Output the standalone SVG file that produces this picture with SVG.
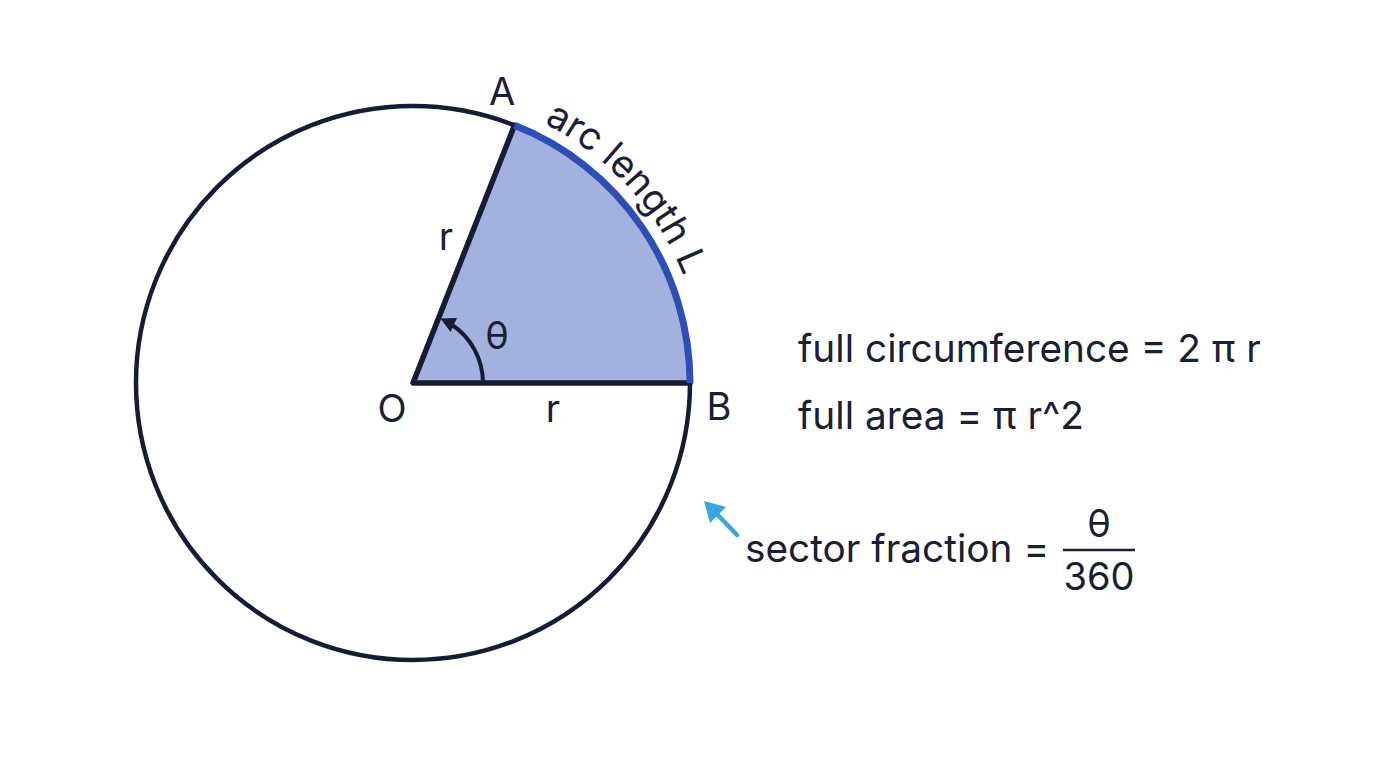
<svg xmlns="http://www.w3.org/2000/svg" width="1376" height="768" viewBox="0 0 1376 768">
<defs>
<style>
text{font-family:Inter,"Liberation Sans",sans-serif;font-size:38px;fill:#1a2033}
.f{font-size:38.8px}
.mid{text-anchor:middle}
.dark{stroke:#141d33;fill:none;stroke-linecap:round;stroke-linejoin:round}
</style>
<path id="arcPath" d="M531.4,117.2 A291,291 0 0 1 694.1,307.7" fill="none"/>
</defs>
<rect width="1376" height="768" fill="#ffffff"/>
<g id="circle">
<circle cx="413" cy="383" r="277" class="dark" stroke-width="4.5"/>
</g>
<g id="sector">
<path d="M413,383 L690,383 A277,277 0 0 0 514.5,125.3 Z" fill="#a3b1df"/>
<path d="M514.5,125.3 L413,383 L690,383" class="dark" stroke-width="5.5"/>
<path d="M690,383 A277,277 0 0 0 514.5,125.3" fill="none" stroke="#2e4eb6" stroke-width="7"/>
</g>
<g id="connectors">
<path d="M483,383 A70,70 0 0 0 451.1,324.3" class="dark" stroke-width="4"/>
<polygon points="440.4,318.6 457,318 450.6,332" fill="#141d33"/>
<line x1="737" y1="535" x2="715" y2="512" stroke="#37a6e3" stroke-width="4.5" stroke-linecap="round"/>
<polygon points="704,501 726,507 710,523" fill="#37a6e3"/>
</g>
<g id="labels">
<text x="502" y="105" class="mid">A</text>
<text x="392" y="422" class="mid">O</text>
<text x="719" y="420" class="mid">B</text>
<text x="446" y="250" class="mid">r</text>
<text x="553" y="422" class="mid">r</text>
<text x="497" y="349" class="mid">θ</text>
<text><textPath href="#arcPath" startOffset="14">arc length L</textPath></text>
</g>
<g id="formulas">
<text x="798" y="362" class="f">full circumference = 2 π r</text>
<text x="798" y="429" class="f">full area = π r^2</text>
<text x="745" y="562" class="f">sector fraction =</text>
<text x="1099" y="537" class="mid">θ</text>
<line x1="1063" y1="550" x2="1135" y2="550" stroke="#1a2033" stroke-width="2.5"/>
<text x="1099" y="590" class="mid">360</text>
</g>
</svg>
